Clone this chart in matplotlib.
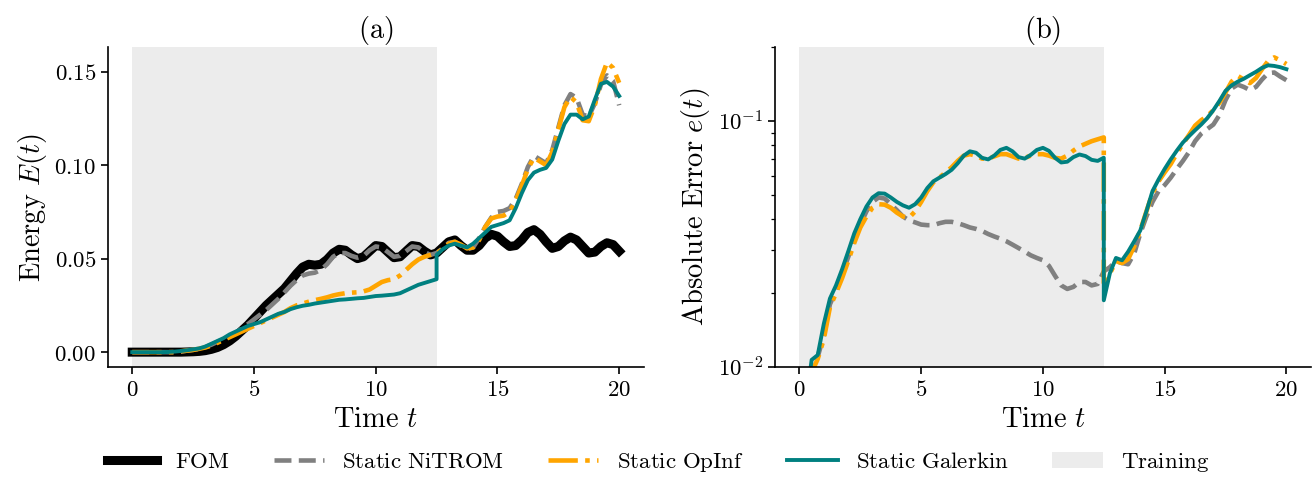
import numpy as np
import matplotlib
matplotlib.use("Agg")
import matplotlib.pyplot as plt
from matplotlib.patches import Patch
from matplotlib.ticker import NullFormatter

# computer modern through mathtext for every text item
plt.rcParams["mathtext.fontset"] = "cm"
plt.rcParams["font.family"] = "serif"

def cm(s):
    return r"$\mathrm{" + s.replace(" ", r"\ ") + "}$"

# time grids: training window and prediction window (12.5 shared so jumps are vertical)
t_train = np.arange(0, 12.51, 0.25)
t_test = np.arange(12.5, 20.01, 0.25)
t_split = 12.5

# (a) energy E(t)
fom_train = [0, 0, 0, 0, 0, 0, 0, 0, 0, 0.0001, 0.0002, 0.0004,
             0.0008, 0.0015, 0.0025, 0.004, 0.006, 0.0085, 0.0115, 0.0145,
             0.018, 0.0215, 0.025, 0.028, 0.031, 0.034, 0.038, 0.042,
             0.0455, 0.047, 0.0465, 0.047, 0.0495, 0.053, 0.055, 0.0545,
             0.052, 0.050, 0.051, 0.054, 0.057, 0.0565, 0.0535, 0.0505,
             0.051, 0.054, 0.057, 0.0565, 0.054, 0.052, 0.053]
fom_test = [0.053, 0.056, 0.059, 0.060, 0.057, 0.0545, 0.0545, 0.057, 0.061, 0.063,
            0.062, 0.059, 0.0565, 0.057, 0.060, 0.064, 0.0655, 0.063,
            0.059, 0.0555, 0.0565, 0.0595, 0.0615, 0.060, 0.0565, 0.053,
            0.0535, 0.0565, 0.0585, 0.0575, 0.054]

nitrom_e_train = [0, 0, 0, 0, 0, 0, 0, 0, 0.0003, 0.0008, 0.0012, 0.0018,
                  0.0027, 0.004, 0.0055, 0.007, 0.0085, 0.0105, 0.0125, 0.015,
                  0.0175, 0.020, 0.0225, 0.0255, 0.0285, 0.032, 0.0355, 0.0385,
                  0.041, 0.042, 0.0425, 0.044, 0.047, 0.051, 0.053, 0.053,
                  0.0515, 0.0505, 0.0515, 0.0545, 0.0565, 0.056, 0.0535, 0.051,
                  0.0515, 0.054, 0.0565, 0.056, 0.0535, 0.052, 0.053]
nitrom_e_test = [0.053, 0.0555, 0.0585, 0.059, 0.057, 0.055, 0.056, 0.061, 0.067, 0.072,
                 0.075, 0.0755, 0.077, 0.082, 0.090, 0.099, 0.105, 0.103,
                 0.101, 0.108, 0.120, 0.132, 0.138, 0.136, 0.127, 0.126,
                 0.133, 0.143, 0.148, 0.145, 0.132]

opinf_e_train = [0, 0, 0, 0, 0, 0, 0, 0, 0.0005, 0.0008, 0.0012, 0.0018,
                 0.0025, 0.0035, 0.005, 0.0065, 0.008, 0.0095, 0.011, 0.0125,
                 0.014, 0.0155, 0.017, 0.0185, 0.020, 0.0215, 0.0235, 0.025,
                 0.026, 0.027, 0.0278, 0.0285, 0.0293, 0.0303, 0.031, 0.0315,
                 0.0318, 0.032, 0.0325, 0.0335, 0.0355, 0.0375, 0.0385, 0.039,
                 0.041, 0.044, 0.047, 0.0495, 0.051, 0.052, 0.053]
opinf_e_test = [0.053, 0.055, 0.058, 0.059, 0.0575, 0.0555, 0.056, 0.060, 0.067, 0.0715,
                0.0725, 0.073, 0.075, 0.081, 0.089, 0.098, 0.104, 0.102,
                0.100, 0.107, 0.119, 0.131, 0.1365, 0.1335, 0.124, 0.1235,
                0.132, 0.146, 0.155, 0.152, 0.144]

galerkin_e_train = [0, 0, 0, 0, 0, 0, 0.0001, 0.0003, 0.0006, 0.001, 0.0015, 0.002,
                    0.003, 0.0045, 0.006, 0.0075, 0.0095, 0.011, 0.0125, 0.014,
                    0.015, 0.016, 0.0175, 0.019, 0.0205, 0.0215, 0.023, 0.024,
                    0.0248, 0.0253, 0.026, 0.0265, 0.027, 0.0275, 0.028, 0.0282,
                    0.0285, 0.0288, 0.029, 0.0295, 0.030, 0.0302, 0.0305, 0.0308,
                    0.0315, 0.033, 0.0345, 0.036, 0.037, 0.038, 0.039]
galerkin_e_test = [0.052, 0.055, 0.057, 0.058, 0.057, 0.056, 0.058, 0.061, 0.064, 0.067,
                   0.068, 0.069, 0.0705, 0.077, 0.085, 0.092, 0.096, 0.0975,
                   0.0985, 0.103, 0.113, 0.122, 0.127, 0.127, 0.1245, 0.126,
                   0.135, 0.1435, 0.1445, 0.142, 0.137]

# (b) absolute error e(t)
nitrom_err_train = [0.003, 0.006, 0.0098, 0.011, 0.0135, 0.018, 0.0205, 0.024,
                    0.028, 0.033, 0.038, 0.043, 0.047, 0.049, 0.0485, 0.046,
                    0.0435, 0.041, 0.0395, 0.0388, 0.038, 0.0378, 0.0378, 0.0385,
                    0.039, 0.039, 0.0385, 0.0378, 0.037, 0.0365, 0.0358, 0.0348,
                    0.034, 0.0333, 0.0325, 0.0315, 0.0305, 0.0295, 0.0285, 0.0278,
                    0.0272, 0.0258, 0.0235, 0.0215, 0.0208, 0.0212, 0.0222, 0.0222,
                    0.0215, 0.0218, 0.0245]
nitrom_err_test = [0.0245, 0.0255, 0.027, 0.0265, 0.0262, 0.029, 0.035, 0.041, 0.047, 0.052,
                   0.055, 0.059, 0.064, 0.069, 0.075, 0.083, 0.089, 0.093,
                   0.097, 0.106, 0.122, 0.136, 0.141, 0.138, 0.134, 0.138,
                   0.148, 0.157, 0.158, 0.152, 0.147]

opinf_err_train = [0.003, 0.006, 0.0095, 0.0108, 0.013, 0.0175, 0.020, 0.023,
                   0.027, 0.032, 0.037, 0.041, 0.0445, 0.046, 0.0458, 0.0445,
                   0.0425, 0.041, 0.0405, 0.043, 0.047, 0.052, 0.0565, 0.059,
                   0.062, 0.065, 0.069, 0.0725, 0.0735, 0.0725, 0.0705, 0.0705,
                   0.072, 0.0735, 0.0735, 0.072, 0.0705, 0.071, 0.0725, 0.0735,
                   0.0735, 0.0725, 0.071, 0.0705, 0.0725, 0.076, 0.079, 0.081,
                   0.083, 0.0845, 0.086]
opinf_err_test = [0.022, 0.024, 0.027, 0.0265, 0.0275, 0.031, 0.036, 0.043, 0.051, 0.057,
                  0.062, 0.067, 0.074, 0.081, 0.088, 0.096, 0.101, 0.105,
                  0.111, 0.119, 0.131, 0.145, 0.153, 0.148, 0.143, 0.150,
                  0.163, 0.176, 0.182, 0.177, 0.171]

galerkin_err_train = [0.004, 0.007, 0.0107, 0.0112, 0.015, 0.019, 0.0215, 0.025,
                      0.0295, 0.035, 0.040, 0.045, 0.049, 0.051, 0.0508, 0.049,
                      0.047, 0.0455, 0.0445, 0.046, 0.049, 0.0535, 0.057, 0.059,
                      0.061, 0.0635, 0.0675, 0.0725, 0.0755, 0.0745, 0.071, 0.070,
                      0.0725, 0.0765, 0.078, 0.0755, 0.0715, 0.0705, 0.073, 0.0765,
                      0.078, 0.0758, 0.071, 0.068, 0.0685, 0.0715, 0.0733, 0.0722,
                      0.0697, 0.069, 0.0711]
galerkin_err_test = [0.0187, 0.0241, 0.0278, 0.0272, 0.0295, 0.0325, 0.036, 0.043, 0.052, 0.058,
                     0.064, 0.070, 0.076, 0.082, 0.087, 0.092, 0.097, 0.103,
                     0.111, 0.121, 0.133, 0.140, 0.145, 0.149, 0.154, 0.159,
                     0.165, 0.169, 0.168, 0.166, 0.163]

x_ticks = [0, 5, 10, 15, 20]
e_ticks = [0.00, 0.05, 0.10, 0.15]
err_ticks = [0.01, 0.1]

t = np.concatenate([t_train, t_test])

def join(a, b):
    return np.concatenate([a, b])

styles = {
    "FOM": dict(color="black", lw=6.5, ls="-"),
    "Static NiTROM": dict(color="gray", lw=3.3, ls="--"),
    "Static OpInf": dict(color="orange", lw=3.3, ls="-."),
    "Static Galerkin": dict(color="teal", lw=2.8, ls="-"),
}
shade = "#ececec"
fs_lab = 20.5
fs_tick = 16.5

fig = plt.figure(figsize=(13.16, 4.78), dpi=100)
ax1 = fig.add_axes([0.082, 0.232, 0.407, 0.669])
ax2 = fig.add_axes([0.589, 0.232, 0.407, 0.669])

for ax in (ax1, ax2):
    ax.axvspan(0, t_split, color=shade, lw=0, zorder=0)

# panel (a)
ax1.plot(t, join(fom_train, fom_test), **styles["FOM"])
ax1.plot(t, join(nitrom_e_train, nitrom_e_test), **styles["Static NiTROM"])
ax1.plot(t, join(opinf_e_train, opinf_e_test), **styles["Static OpInf"])
ax1.plot(t, join(galerkin_e_train, galerkin_e_test), **styles["Static Galerkin"])
ax1.set_ylim(-0.008, 0.163)
ax1.set_yticks(e_ticks)
ax1.set_yticklabels([f"${v:.2f}$" for v in e_ticks])
ax1.set_ylabel(r"$\mathrm{Energy}\ E(t)$", fontsize=fs_lab)
ax1.set_title(cm("(a)"), fontsize=fs_lab)

# panel (b)
ax2.plot(t, join(nitrom_err_train, nitrom_err_test), **styles["Static NiTROM"])
ax2.plot(t, join(opinf_err_train, opinf_err_test), **styles["Static OpInf"])
ax2.plot(t, join(galerkin_err_train, galerkin_err_test), **styles["Static Galerkin"])
ax2.set_yscale("log")
ax2.set_ylim(0.01, 0.2)
ax2.set_yticks(err_ticks)
ax2.set_yticklabels([r"$10^{%d}$" % round(np.log10(v)) for v in err_ticks])
ax2.yaxis.set_minor_formatter(NullFormatter())
ax2.set_ylabel(r"$\mathrm{Absolute\ Error}\ e(t)$", fontsize=fs_lab)
ax2.set_title(cm("(b)"), fontsize=fs_lab)

for ax in (ax1, ax2):
    ax.set_xlim(-1, 21)
    ax.set_xticks(x_ticks)
    ax.set_xticklabels([f"${v}$" for v in x_ticks])
    ax.set_xlabel(r"$\mathrm{Time}\ t$", fontsize=fs_lab)
    ax.spines["top"].set_visible(False)
    ax.spines["right"].set_visible(False)
    for s in ("left", "bottom"):
        ax.spines[s].set_linewidth(1.2)
    ax.tick_params(which="major", labelsize=fs_tick, length=5, width=1.2)
    ax.tick_params(which="minor", length=3, width=0.9)

handles = [plt.Line2D([], [], **styles[k]) for k in styles]
handles.append(Patch(color=shade, lw=0))
labels = [cm(k) for k in styles] + [cm("Training")]
fig.legend(handles, labels, loc="center", bbox_to_anchor=(0.5, 0.032), ncol=5,
           frameon=False, fontsize=fs_tick, handlelength=2.2, columnspacing=1.9)

fig.savefig("out.png", dpi=100)
